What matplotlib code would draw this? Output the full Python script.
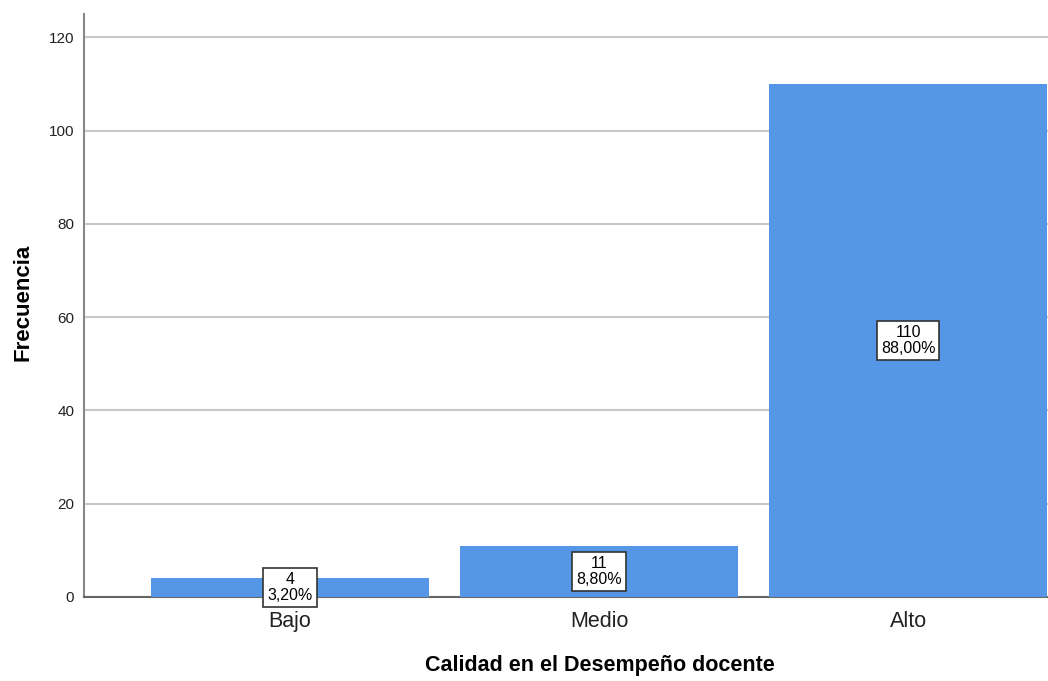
import matplotlib
matplotlib.use("Agg")
import matplotlib.pyplot as plt

categories = ["Bajo", "Medio", "Alto"]
counts = [4, 11, 110]
percents = ["3,20%", "8,80%", "88,00%"]
yticks = [0, 20, 40, 60, 80, 100, 120]

plt.rcParams['font.family'] = ['Liberation Sans', 'DejaVu Sans']
fig = plt.figure(figsize=(10.48, 6.81), dpi=100)
ax = fig.add_axes([84/1048, 1-597/681, 1-84/1048, (597-14)/681])

x = list(range(len(categories)))
ax.bar(x, counts, width=0.9, color='#5596E6', zorder=3)
ax.set_xlim(-0.667, 2.453)
ax.set_ylim(0, 125)
ax.set_yticks(yticks)
ax.yaxis.grid(True, color='#c8c8c8', linewidth=1.5, zorder=0)
ax.set_axisbelow(True)
for s in ['top', 'right']:
    ax.spines[s].set_visible(False)
ax.spines['left'].set_color('#888888')
ax.spines['bottom'].set_color('#666666')
ax.spines['left'].set_linewidth(1.5)
ax.spines['bottom'].set_linewidth(1.5)
ax.tick_params(axis='y', length=0, labelsize=11, pad=7, labelcolor='#222222')
ax.tick_params(axis='x', length=0, labelsize=15.5, pad=10, labelcolor='#222222')
ax.set_xticks(x)
ax.set_xticklabels(categories)
ax.set_ylabel("Frecuencia", fontsize=16, fontweight='bold')
ax.yaxis.set_label_coords(-0.052, 0.505)
ax.set_xlabel("Calidad en el Desempeño docente", fontsize=15.5, fontweight='bold')
ax.xaxis.set_label_coords(0.535, -0.1)

for xi, c, p in zip(x, counts, percents):
    ax.text(xi, c/2, f"{c}\n{p}", ha='center', va='center', fontsize=11.5,
            linespacing=1.1, zorder=5,
            bbox=dict(boxstyle='square,pad=0.25', fc='white', ec='#333333', lw=1.2))

fig.savefig("out.png", dpi=100)
